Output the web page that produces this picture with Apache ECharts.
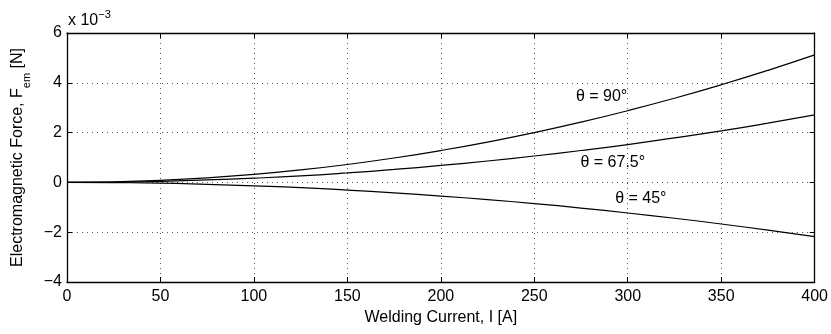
<!DOCTYPE html>
<html><head><meta charset="utf-8">
<script src="https://cdn.jsdelivr.net/npm/echarts@6/dist/echarts.min.js"></script>
<style>html,body{margin:0;padding:0;background:#fff}#c{width:831px;height:334px}</style>
</head><body><div id="c"></div>
<script>
var currents = [0,25,50,75,100,125,150,175,200,225,250,275,300,325,350,375,400];
var force90 = [0,0.02,0.08,0.18,0.32,0.50,0.72,0.98,1.28,1.62,2.00,2.42,2.88,3.38,3.92,4.50,5.12];
var force675 = [0,0.01,0.04,0.10,0.17,0.26,0.38,0.52,0.68,0.86,1.06,1.28,1.52,1.79,2.07,2.38,2.71];
var force45 = [0,-0.01,-0.03,-0.08,-0.14,-0.21,-0.31,-0.42,-0.55,-0.69,-0.85,-1.03,-1.23,-1.44,-1.67,-1.92,-2.18];
var seriesNames = ['θ = 90°','θ = 67.5°','θ = 45°'];
var labelPos = [[286,3.43],[292,0.78],[307,-0.67]];

var FONT = '"Liberation Sans", Arial, sans-serif';
var chart = echarts.init(document.getElementById('c'));
function pairs(v){ return currents.map(function(x,i){return [x,v[i]];}); }
function fmt(v){ return String(v).replace('-', '\u2212'); }
var common = {type:'value', axisLine:{show:true,onZero:false,lineStyle:{color:'#000',width:1.3}},
  axisTick:{show:true,inside:true,length:5,lineStyle:{color:'#000'}}};
var option = {
  animation:false,
  grid:{left:67,right:14,top:33,bottom:52,containLabel:false},
  xAxis:[
    Object.assign({}, common, {position:'bottom',min:0,max:400,interval:50,
      name:'Welding Current, I [A]',nameLocation:'middle',nameGap:28,
      nameTextStyle:{fontFamily:FONT,fontSize:16,color:'#000'},
      axisLabel:{fontFamily:FONT,fontSize:16,color:'#000',margin:7,formatter:fmt},
      splitLine:{show:true,lineStyle:{type:[1,4],color:'#555',width:1}}}),
    Object.assign({}, common, {position:'top',min:0,max:400,interval:50,
      axisLabel:{show:false},splitLine:{show:false}})
  ],
  yAxis:[
    Object.assign({}, common, {position:'left',min:-4,max:6,interval:2,
      name:'Electromagnetic Force, F{sub|em} [N]',nameLocation:'middle',nameGap:41,
      nameTextStyle:{fontFamily:FONT,fontSize:16,color:'#000',
        rich:{sub:{fontFamily:FONT,fontSize:11,color:'#000',verticalAlign:'bottom',padding:[0,0,-6,0]}}},
      axisLabel:{fontFamily:FONT,fontSize:16,color:'#000',margin:5,formatter:fmt},
      splitLine:{show:true,lineStyle:{type:[1,4],color:'#555',width:1}}}),
    Object.assign({}, common, {position:'right',min:-4,max:6,interval:2,
      axisLabel:{show:false},splitLine:{show:false}})
  ],
  series:[force90,force675,force45].map(function(v,i){
    return {name:seriesNames[i],type:'line',data:pairs(v),smooth:true,showSymbol:false,
      lineStyle:{color:'#000',width:1.2},xAxisIndex:0,yAxisIndex:0};
  })
};
chart.setOption(option);
var g = [];
labelPos.forEach(function(p,i){
  var px = chart.convertToPixel({xAxisIndex:0,yAxisIndex:0}, p);
  g.push({type:'text',x:px[0],y:px[1],style:{text:seriesNames[i],fill:'#000',
    font:'16px '+FONT,textAlign:'center',textVerticalAlign:'middle'}});
});
g.push({type:'text',x:68,y:21,style:{text:'x 10{sup|\u22123}',fill:'#000',font:'16px '+FONT,
  textVerticalAlign:'middle',
  rich:{sup:{fontFamily:FONT,fontSize:11,fill:'#000',verticalAlign:'top',padding:[0,0,12,0]}}}});
chart.setOption({graphic:g});
</script></body></html>
